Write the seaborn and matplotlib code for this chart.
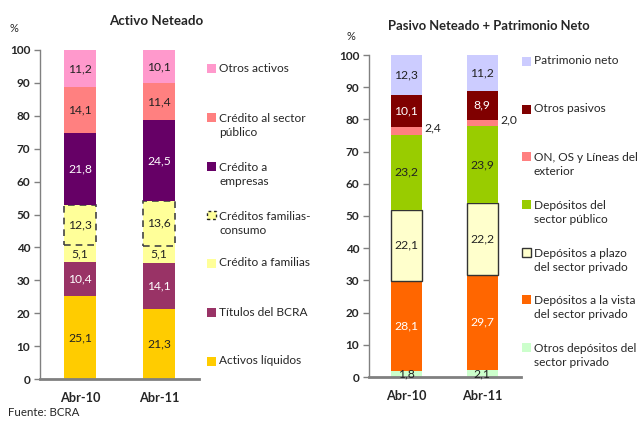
import numpy as np
import matplotlib.pyplot as plt
from matplotlib.patches import Rectangle
import seaborn as sns

# -------------------------------
# Data (% of total), bottom to top of each stack
# -------------------------------
periodos = ["Abr-10", "Abr-11"]

# Activo neteado
activos_liquidos = [25.1, 21.3]
titulos_bcra = [10.4, 14.1]
credito_familias = [5.1, 5.1]
creditos_consumo = [12.3, 13.6]
credito_empresas = [21.8, 24.5]
credito_sector_publico = [14.1, 11.4]
otros_activos = [11.2, 10.1]

# Pasivo neteado + patrimonio neto
otros_depositos = [1.8, 2.1]
depositos_vista = [28.1, 29.7]
depositos_plazo = [22.1, 22.2]
depositos_publico = [23.2, 23.9]
on_os_lineas = [2.4, 2.0]
otros_pasivos = [10.1, 8.9]
patrimonio_neto = [12.3, 11.2]

W, H = 641, 421

sns.set_style("ticks")
plt.rcParams['font.family'] = ['Lato', 'DejaVu Sans']

fig = plt.figure(figsize=(W / 100, H / 100), dpi=100)

ax1 = fig.add_axes([40 / W, 1 - 379 / H, 159 / W, 329 / H])
ax2 = fig.add_axes([369 / W, 1 - 377 / H, 152 / W, 322 / H])

GRAY = "#808080"
no_edge = dict(linewidth=0)
dashed = dict(edgecolor="#444444", linewidth=1.2, linestyle=(0, (4, 3)))
solid = dict(edgecolor="#333333", linewidth=1.0)

# (values, colour, label colour, edge style, label placement)
activo_layers = [
    (activos_liquidos, "#FFCC00", "#222222", no_edge, "center"),
    (titulos_bcra, "#993366", "white", no_edge, "center"),
    (credito_familias, "#FFFF99", "#222222", no_edge, "center"),
    (creditos_consumo, "#FFFF99", "#222222", dashed, "center"),
    (credito_empresas, "#660066", "white", no_edge, "center"),
    (credito_sector_publico, "#FF8080", "#222222", no_edge, "center"),
    (otros_activos, "#FF99CC", "#222222", no_edge, "center"),
]

pasivo_layers = [
    (otros_depositos, "#CCFFCC", "#222222", no_edge, "center"),
    (depositos_vista, "#FF6600", "white", no_edge, "center"),
    (depositos_plazo, "#FFFFCC", "#222222", solid, "center"),
    (depositos_publico, "#99CC00", "#222222", no_edge, "center"),
    (on_os_lineas, "#FF8080", "#222222", no_edge, "right"),
    (otros_pasivos, "#800000", "white", no_edge, "center"),
    (patrimonio_neto, "#CCCCFF", "#222222", no_edge, "center"),
]


def fmt(v):
    return f"{v:.1f}".replace(".", ",")


def stacked(ax, layers, width):
    bottom = np.zeros(len(periodos))
    for vals, color, txt, edge, place in layers:
        sns.barplot(x=periodos, y=vals, bottom=bottom, color=color,
                    saturation=1, width=width, errorbar=None, ax=ax, **edge)
        cont = ax.containers[-1]
        if place == "center":
            ax.bar_label(cont, labels=[fmt(v) for v in vals], label_type="center",
                         color=txt, fontsize=8.7)
        else:
            for p, v in zip(cont.patches, vals):
                ax.text(p.get_x() + p.get_width() + 0.03, p.get_y() + p.get_height() / 2 + 0.8,
                        fmt(v), ha="left", va="center", fontsize=8.7, color=txt)
        bottom = bottom + np.array(vals)


stacked(ax1, activo_layers, 0.405)
stacked(ax2, pasivo_layers, 0.41)

for ax, xl in [(ax1, (-0.506, 1.506)), (ax2, (-0.49, 1.51))]:
    ax.set_xlim(*xl)
    ax.set_ylim(0, 100)
    ax.set_yticks(range(0, 101, 10))
    ax.set_xlabel("")
    ax.set_ylabel("")
    sns.despine(ax=ax)
    ax.spines["left"].set_color(GRAY)
    ax.spines["left"].set_linewidth(1.0)
    ax.spines["bottom"].set_color(GRAY)
    ax.spines["bottom"].set_linewidth(2.0)
    ax.tick_params(axis="y", length=4, width=1, color=GRAY, labelsize=8.5, pad=3)
    ax.tick_params(axis="x", length=0, labelsize=9.2, pad=9)
    for lab in ax.get_yticklabels() + ax.get_xticklabels():
        lab.set_fontweight("bold")

# titles and notes
fig.text(156 / W, 1 - 21 / H, "Activo Neteado", ha="center", va="center",
         fontsize=9.6, fontweight="bold")
fig.text(489 / W, 1 - 26 / H, "Pasivo Neteado + Patrimonio Neto", ha="center", va="center",
         fontsize=9.4, fontweight="bold")
fig.text(14 / W, 1 - 29 / H, "%", ha="center", va="center", fontsize=8)
fig.text(351 / W, 1 - 36 / H, "%", ha="center", va="center", fontsize=8)
fig.text(8 / W, 1 - 412 / H, "Fuente: BCRA", ha="left", va="center", fontsize=8.3)


# legends drawn as squares + text, positions in pixels
def legend(x_sq, entries):
    for label, y, color, edge in entries:
        ls = "-"
        ec = "none"
        lw = 0
        if edge == "dashed":
            ec, lw, ls = "#222222", 1.0, (0, (2, 2))
        elif edge == "solid":
            ec, lw = "#333333", 1.0
        fig.add_artist(Rectangle((x_sq / W, 1 - (y + 4.5) / H), 9 / W, 9 / H,
                                 transform=fig.transFigure, facecolor=color,
                                 edgecolor=ec, linewidth=lw, linestyle=ls))
        nlines = label.count("\n")
        fig.text((x_sq + 12) / W, 1 - (y + nlines * 8.3) / H, label, ha="left", va="center",
                 fontsize=8.6, linespacing=1.38)


legend(207, [
    ("Otros activos", 68, "#FF99CC", None),
    ("Crédito al sector\npúblico", 117, "#FF8080", None),
    ("Crédito a\nempresas", 166, "#660066", None),
    ("Créditos familias-\nconsumo", 215, "#FFFF99", "dashed"),
    ("Crédito a familias", 263, "#FFFF99", None),
    ("Títulos del BCRA", 312, "#993366", None),
    ("Activos líquidos", 361, "#FFCC00", None),
])

legend(522, [
    ("Patrimonio neto", 61, "#CCCCFF", None),
    ("Otros pasivos", 109, "#800000", None),
    ("ON, OS y Líneas del\nexterior", 156, "#FF8080", None),
    ("Depósitos del\nsector público", 204, "#99CC00", None),
    ("Depósitos a plazo\ndel sector privado", 252, "#FFFFCC", "solid"),
    ("Depósitos a la vista\ndel sector privado", 299, "#FF6600", None),
    ("Otros depósitos del\nsector privado", 347, "#CCFFCC", None),
])

fig.savefig("out.png", dpi=100)
